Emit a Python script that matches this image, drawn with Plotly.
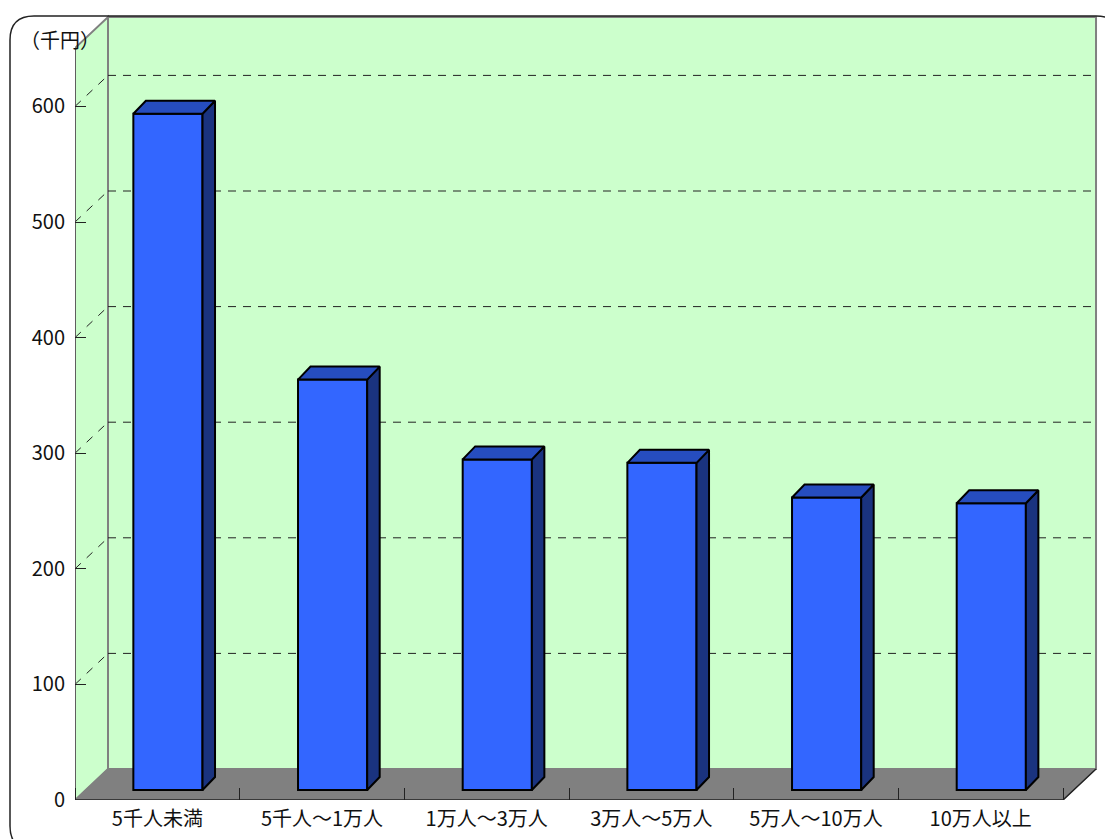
import plotly.graph_objects as go

categories = ["5千人未満", "5千人～1万人", "1万人～3万人", "3万人～5万人", "5万人～10万人", "10万人以上"]
values = [585, 355, 286, 283, 253, 248]
y_ticks = [0, 100, 200, 300, 400, 500, 600]
y_unit = "（千円）"

W, H = 1105, 839
FONT = "Noto Sans CJK JP"
# pixel geometry of the chart frame
L, B = 75, 800            # front-left corner at value 0
SLOT = 164.67             # px per category
PXU = 1.156               # px per value unit
WALL_DX, WALL_DY = 33, 31 # depth of the box
WALL_TOP = 17
PAD = 4
BAR_W = 0.42              # category units
BAR_DX, BAR_DY = 12.5, 13 # depth of the bars
BASE_DX, BASE_DY = 10.6, 10

n = len(categories)
xr = [-0.5, -0.5 + (SLOT * n + WALL_DX + PAD) / SLOT]
yr = [0, (B - WALL_TOP + PAD) / PXU]
ux = lambda px: px / SLOT
uy = lambda px: px / PXU
x0, x1 = -0.5, n - 0.5
wx, wy = ux(WALL_DX), uy(WALL_DY)
top = uy(B - WALL_TOP) - wy   # front-plane height of the box

GRID = dict(color="#222222", width=1, dash="8px,7px")
EDGE = dict(color="#808080", width=2)


def poly(xs, ys, fill, line=None):
    p = "M" + "L".join(f"{a},{b}" for a, b in zip(xs, ys)) + "Z"
    return dict(type="path", path=p, xref="x", yref="y", layer="below",
                fillcolor=fill, line=line or dict(width=0))


shapes = [
    poly([x0 + wx, x1 + wx, x1 + wx, x0 + wx], [wy, wy, top + wy, top + wy], "#CCFFCC", EDGE),
    poly([x0, x0 + wx, x0 + wx, x0], [0, wy, top + wy, top], "#CCFFCC", EDGE),
    poly([x0, x1, x1 + wx, x0 + wx], [0, 0, wy, wy], "#808080", dict(color="#808080", width=1)),
]
for t in y_ticks[1:]:
    shapes.append(dict(type="line", xref="x", yref="y", layer="below", x0=x0 + wx, x1=x1 + wx,
                       y0=t + wy, y1=t + wy, line=GRID))
    shapes.append(dict(type="line", xref="x", yref="y", layer="below", x0=x0, x1=x0 + wx,
                       y0=t, y1=t + wy, line=dict(color="#222222", width=1, dash="8px,8px")))

# rounded outer border, in paper coordinates
px = lambda v: v / W
py = lambda v: 1 - v / H
shapes.append(dict(type="path", xref="paper", yref="paper", layer="above", fillcolor="rgba(0,0,0,0)",
                   line=dict(color="#222222", width=1.5),
                   path=f"M{px(34)},{py(16)}L{px(1096)},{py(16)}Q{px(1120)},{py(16)} {px(1120)},{py(40)}"
                        f"L{px(1120)},{py(850)}L{px(34)},{py(850)}Q{px(10)},{py(850)} {px(10)},{py(826)}"
                        f"L{px(10)},{py(40)}Q{px(10)},{py(16)} {px(34)},{py(16)}Z"))

fig = go.Figure()
bar_x = [i + ux(BASE_DX) for i in range(n)]
base = uy(BASE_DY)
fig.add_trace(go.Bar(x=bar_x, y=values, base=[base] * n, width=BAR_W,
                     marker=dict(color="#3366FF", line=dict(color="#000000", width=2)),
                     showlegend=False, hoverinfo="skip"))

dx, dy = ux(BAR_DX), uy(BAR_DY)
for bx, v in zip(bar_x, values):
    a, b = bx - BAR_W / 2, bx + BAR_W / 2
    t = base + v
    fig.add_trace(go.Scatter(x=[b, b + dx, b + dx, b, b], y=[base, base + dy, t + dy, t, base],
                             mode="lines", fill="toself", fillcolor="#1A337F",
                             line=dict(color="#000000", width=2), showlegend=False, hoverinfo="skip"))
    fig.add_trace(go.Scatter(x=[a, a + dx, b + dx, b, a], y=[t, t + dy, t + dy, t, t],
                             mode="lines", fill="toself", fillcolor="#264DBF",
                             line=dict(color="#000000", width=2), showlegend=False, hoverinfo="skip"))

# front edges of the box
fig.add_trace(go.Scatter(x=[x0, x1, x1 + wx], y=[0, 0, wy], mode="lines", cliponaxis=False,
                         line=dict(color="#222222", width=1.5), showlegend=False, hoverinfo="skip"))
fig.add_trace(go.Scatter(x=[x0, x0], y=[0, top], mode="lines", cliponaxis=False,
                         line=dict(color="#555555", width=1.5), showlegend=False, hoverinfo="skip"))

fig.update_layout(
    width=W, height=H, margin=dict(l=0, r=0, t=0, b=0, autoexpand=False), autosize=False,
    paper_bgcolor="#FFFFFF", plot_bgcolor="rgba(0,0,0,0)",
    font=dict(family=FONT, size=20, color="#111111"),
    shapes=shapes,
    annotations=[dict(text=y_unit, xref="paper", yref="paper", x=px(60), y=py(40), showarrow=False,
                      xanchor="center", yanchor="middle", font=dict(family=FONT, size=20, color="#111111"))],
    xaxis=dict(domain=[px(L), px(L + SLOT * n + WALL_DX + PAD)], range=xr, showgrid=False, zeroline=False,
               automargin=False,
               showline=False, tickmode="array", tickvals=list(range(n)), ticktext=categories,
               ticks="", ticklabelstandoff=5, tickangle=0,
               minor=dict(tickmode="array", tickvals=[i - 0.5 for i in range(n + 1)], ticks="inside",
                          ticklen=12, tickcolor="#222222", tickwidth=1, showgrid=False)),
    yaxis=dict(domain=[1 - B / H, 1 - (WALL_TOP - PAD) / H], range=yr, showgrid=False, zeroline=False,
               automargin=False,
               showline=False, tickmode="array", tickvals=y_ticks, ticktext=[str(t) for t in y_ticks],
               ticks="inside", ticklen=11, tickcolor="#222222", tickwidth=1, ticklabelstandoff=9),
)

fig.write_html("out.html", config=dict(displayModeBar=False),
               post_script="document.documentElement.style.overflow='hidden';document.body.style.margin='0';")
